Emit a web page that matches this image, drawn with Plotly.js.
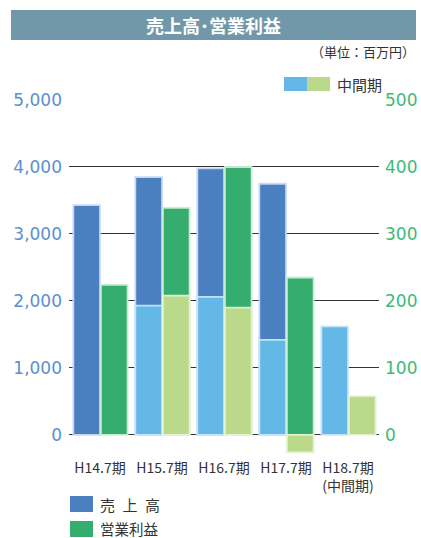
<!DOCTYPE html>
<html>
<head>
<meta charset="utf-8">
<script src="https://cdn.plot.ly/plotly-3.0.1.min.js"></script>
<style>
  html, body { margin: 0; padding: 0; background: #fff; }
  #chart { width: 421px; height: 538px; }
</style>
</head>
<body>
<div id="chart"></div>
<script>
// 売上高・営業利益（単位：百万円）
const categories = ['H14.7期', 'H15.7期', 'H16.7期', 'H17.7期', 'H18.7期<br>(中間期)'];
const salesFull = [3430, 3850, 3980, 3750, null];      // 売上高（通期）
const salesInterim = [null, 1930, 2060, 1420, 1620];   // 売上高（中間期）
const profitFull = [224, 339, 400, 235, null];         // 営業利益（通期）
const profitInterim = [null, 208, 190, -26, 58];       // 営業利益（中間期）
const leftTicks = [0, 1000, 2000, 3000, 4000, 5000];
const rightTicks = [0, 100, 200, 300, 400, 500];

const JP = '"Noto Sans CJK JP", "Noto Sans", sans-serif';
const NUM = 'DejaVu Sans';

const C = {
  blue: '#4a7fc0', blueEdge: 'rgba(200,217,242,0.95)',
  lightBlue: '#63b8e8', lightBlueEdge: 'rgba(200,230,248,0.95)',
  green: '#35ad6e', greenEdge: 'rgba(204,236,214,0.95)',
  lightGreen: '#bbd98a', lightGreenEdge: 'rgba(230,242,212,0.95)'
};

const W = 0.43;
function barTrace(y, color, edge, axis, offset) {
  return {
    type: 'bar', x: categories, y: y, yaxis: axis,
    width: W, offset: offset,
    marker: { color: color, line: { color: edge, width: 1.8 } },
    hoverinfo: 'skip', showlegend: false
  };
}

const data = [
  barTrace(salesFull, C.blue, C.blueEdge, 'y', -0.43),
  barTrace(salesInterim, C.lightBlue, C.lightBlueEdge, 'y', -0.43),
  barTrace(profitFull, C.green, C.greenEdge, 'y2', 0.015),
  barTrace(profitInterim, C.lightGreen, C.lightGreenEdge, 'y2', 0.015)
];

// paper coordinates helpers (plot area: x 69..379, y 100..455 px)
const px = v => (v - 69) / 310;
const py = v => (455 - v) / 355;

const shapes = [
  // title band
  { type: 'rect', xref: 'paper', yref: 'paper', x0: px(11), x1: px(416), y0: py(40), y1: py(10),
    fillcolor: '#7198a9', line: { width: 0 }, layer: 'above' },
  // 中間期 swatches
  { type: 'rect', xref: 'paper', yref: 'paper', x0: px(284), x1: px(307), y0: py(91), y1: py(77),
    fillcolor: C.lightBlue, line: { width: 0 } },
  { type: 'rect', xref: 'paper', yref: 'paper', x0: px(307), x1: px(330), y0: py(91), y1: py(77),
    fillcolor: C.lightGreen, line: { width: 0 } },
  // bottom legend swatches
  { type: 'rect', xref: 'paper', yref: 'paper', x0: px(70), x1: px(93), y0: py(512), y1: py(496),
    fillcolor: C.blue, line: { width: 0 } },
  { type: 'rect', xref: 'paper', yref: 'paper', x0: px(70), x1: px(93), y0: py(537), y1: py(521),
    fillcolor: C.green, line: { width: 0 } }
];

const annotations = [
  { xref: 'paper', yref: 'paper', x: px(213.5), y: py(25), text: '<b>売上高･営業利益</b>',
    showarrow: false, xanchor: 'center', yanchor: 'middle',
    font: { family: JP, size: 18, color: '#ffffff' } },
  { xref: 'paper', yref: 'paper', x: px(417), y: py(52), text: '（単位：百万円）',
    showarrow: false, xanchor: 'right', yanchor: 'middle',
    font: { family: JP, size: 13, color: '#333333' } },
  { xref: 'paper', yref: 'paper', x: px(335), y: py(84), text: '中間期',
    showarrow: false, xanchor: 'left', yanchor: 'middle',
    font: { family: JP, size: 15, color: '#333333' } },
  { xref: 'paper', yref: 'paper', x: px(98), y: py(504), text: '売\u2002上\u2002高',
    showarrow: false, xanchor: 'left', yanchor: 'middle',
    font: { family: JP, size: 15, color: '#333333' } },
  { xref: 'paper', yref: 'paper', x: px(98), y: py(528), text: '営業利益',
    showarrow: false, xanchor: 'left', yanchor: 'middle',
    font: { family: JP, size: 14.5, color: '#333333' } }
];

const layout = {
  width: 421, height: 538,
  margin: { l: 69, r: 42, t: 100, b: 83, pad: 0 },
  paper_bgcolor: '#ffffff', plot_bgcolor: '#ffffff',
  barmode: 'overlay',
  showlegend: false,
  xaxis: {
    type: 'category', showgrid: false, zeroline: false, showline: false,
    ticks: '', ticklabelstandoff: 3,
    tickfont: { family: JP, size: 14, color: '#333333' }
  },
  yaxis: {
    range: [-300, 5000], tickvals: leftTicks,
    tickformat: ',d',
    showgrid: true, gridcolor: '#333333', gridwidth: 1,
    zeroline: false, showline: false, ticks: '', ticklabelstandoff: 6,
    tickfont: { family: NUM, size: 17, color: '#5b8fd0' }
  },
  yaxis2: {
    overlaying: 'y', side: 'right',
    range: [-30, 500], tickvals: rightTicks,
    showgrid: false, zeroline: false, showline: false, ticks: '', ticklabelstandoff: 5,
    tickfont: { family: NUM, size: 17, color: '#3dba79' }
  },
  separators: '.,',
  shapes: shapes,
  annotations: annotations
};

Plotly.newPlot('chart', data, layout, { displayModeBar: false, staticPlot: true });
</script>
</body>
</html>
